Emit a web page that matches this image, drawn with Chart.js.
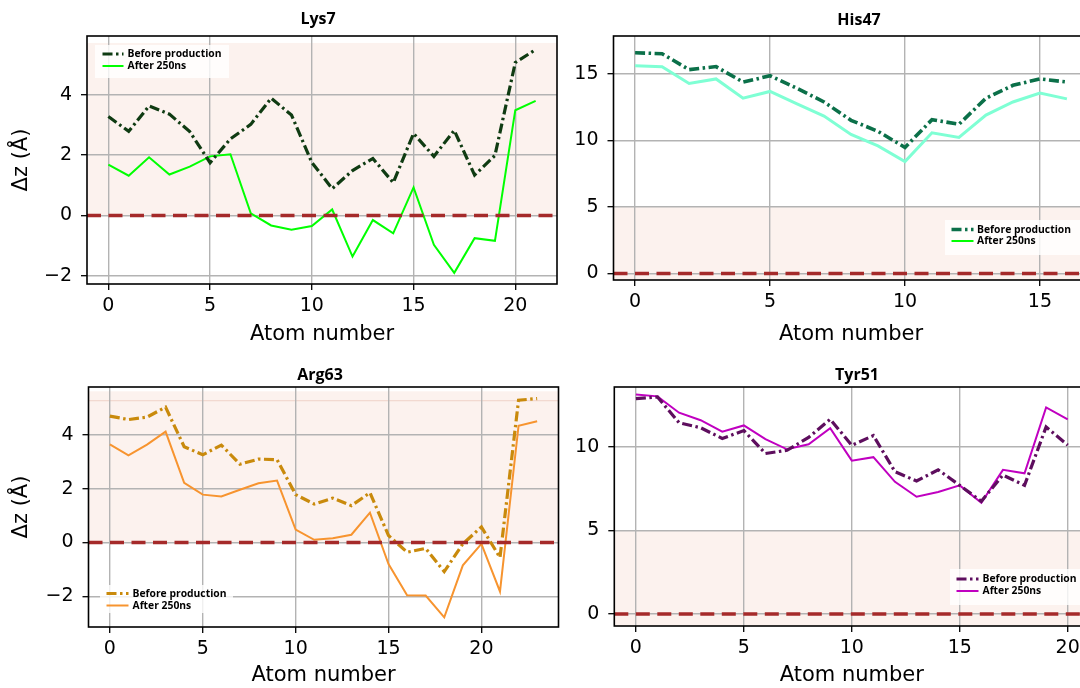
<!DOCTYPE html>
<html><head><meta charset="utf-8">
<script src="https://cdn.jsdelivr.net/npm/chart.js@4/dist/chart.umd.min.js"></script>
<style>
html,body{margin:0;padding:0;background:#fff;width:1080px;height:688px;overflow:hidden;position:relative}
canvas{position:absolute}
</style></head><body>
<canvas id="c1"></canvas><canvas id="c2"></canvas><canvas id="c3"></canvas><canvas id="c4"></canvas>
<script>
// ---- data ----
const xLabel = 'Atom number';
const yLabel = 'Δz (Å)';
const legendLabels = ['Before production', 'After 250ns'];
const titles = ['Lys7', 'His47', 'Arg63', 'Tyr51'];

const lys7Before = [3.28, 2.79, 3.63, 3.36, 2.78, 1.75, 2.54, 3.02, 3.89, 3.33, 1.76, 0.89, 1.49, 1.89, 1.09, 2.72, 1.96, 2.82, 1.34, 1.99, 5.07, 5.5];
const lys7After  = [1.69, 1.32, 1.93, 1.36, 1.62, 1.96, 2.03, 0.07, -0.33, -0.47, -0.35, 0.2, -1.36, -0.15, -0.59, 0.93, -0.97, -1.9, -0.75, -0.84, 3.49, 3.8];

const his47Before = [16.6, 16.53, 15.33, 15.56, 14.39, 14.87, 13.92, 12.9, 11.52, 10.69, 9.48, 11.57, 11.22, 13.18, 14.15, 14.63, 14.4];
const his47After  = [15.62, 15.55, 14.29, 14.63, 13.18, 13.69, 12.76, 11.84, 10.46, 9.59, 8.42, 10.58, 10.23, 11.91, 12.9, 13.57, 13.13];

const arg63Before = [4.7, 4.57, 4.66, 5.03, 3.56, 3.26, 3.62, 2.91, 3.1, 3.08, 1.78, 1.43, 1.65, 1.37, 1.85, 0.26, -0.36, -0.22, -1.08, -0.05, 0.58, -0.56, 5.29, 5.35];
const arg63After  = [3.65, 3.24, 3.64, 4.12, 2.22, 1.78, 1.71, 1.96, 2.2, 2.3, 0.48, 0.1, 0.16, 0.29, 1.11, -0.8, -1.96, -1.97, -2.78, -0.85, -0.05, -1.82, 4.34, 4.51];

const tyr51Before = [12.89, 12.99, 11.45, 11.15, 10.51, 10.98, 9.61, 9.8, 10.57, 11.66, 10.1, 10.68, 8.52, 7.96, 8.63, 7.7, 6.75, 8.32, 7.7, 11.2, 10.11];
const tyr51After  = [13.14, 13.03, 12.05, 11.6, 10.92, 11.29, 10.47, 9.86, 10.16, 11.13, 9.18, 9.39, 7.91, 7.02, 7.3, 7.7, 6.66, 8.63, 8.42, 12.37, 11.65];

const lys7XTicks = [0, 5, 10, 15, 20];
const lys7YTicks = [-2, 0, 2, 4];
const his47XTicks = [0, 5, 10, 15];
const his47YTicks = [0, 5, 10, 15];
const arg63XTicks = [0, 5, 10, 15, 20];
const arg63YTicks = [-2, 0, 2, 4];
const tyr51XTicks = [0, 5, 10, 15, 20];
const tyr51YTicks = [0, 5, 10];

// ---- drawing ----
function toPts(arr) { return arr.map((v, i) => ({x: i, y: v})); }
function fmt(v) { return v < 0 ? '\u2212' + Math.abs(v) : String(v); }

function panel(o) {
  const cv = document.getElementById(o.id);
  const [bx, by, bw, bh] = o.box;
  cv.width = bw; cv.height = bh;
  cv.style.left = bx + 'px'; cv.style.top = by + 'px';
  const [L, T, R, B] = o.area;
  const yW = L - bx, xH = by + bh - B, padTop = T - by, padRight = bx + bw - R;

  const deco = {
    id: 'deco',
    beforeDraw(chart) {
      const {ctx, chartArea: a, scales: {y}} = chart;
      ctx.save();
      ctx.fillStyle = '#fcf2ee';
      const s0 = Math.max(y.getPixelForValue(o.shade[1]), a.top);
      const s1 = Math.min(y.getPixelForValue(o.shade[0]), a.bottom);
      ctx.fillRect(a.left, s0, a.right - a.left, s1 - s0);
      if (o.faint !== undefined) {
        ctx.strokeStyle = 'rgba(232,196,184,0.7)';
        ctx.lineWidth = 1;
        const fy = y.getPixelForValue(o.faint);
        ctx.beginPath(); ctx.moveTo(a.left, fy); ctx.lineTo(a.right, fy); ctx.stroke();
      }
      ctx.restore();
    },
    afterDatasetsDraw(chart) {
      const {ctx, chartArea: a, scales: {y}} = chart;
      const zy = y.getPixelForValue(0);
      ctx.save();
      ctx.strokeStyle = '#a52a2a';
      ctx.lineWidth = 3.6;
      ctx.setLineDash([14, 7.5]);
      ctx.beginPath(); ctx.moveTo(a.left, zy); ctx.lineTo(a.right, zy); ctx.stroke();
      ctx.restore();
    },
    afterDraw(chart) {
      const {ctx, chartArea: a} = chart;
      ctx.save();
      // legend
      const lg = o.legend;
      ctx.fillStyle = 'rgba(255,255,255,0.8)';
      ctx.fillRect(lg.box[0] - bx, lg.box[1] - by, lg.box[2], lg.box[3]);
      let fs = 10;
      ctx.font = 'bold ' + fs + 'px "Open Sans"';
      fs = fs * 94 / ctx.measureText(legendLabels[0]).width;
      ctx.font = 'bold ' + fs.toFixed(2) + 'px "Open Sans"';
      ctx.textBaseline = 'middle'; ctx.textAlign = 'left';
      chart.data.datasets.forEach((ds, i) => {
        const ry = lg.rows[i] - by;
        ctx.strokeStyle = o.legendColors[i];
        ctx.lineWidth = i === 0 ? o.w1 : 2;
        ctx.setLineDash(i === 0 ? o.dash1 : []);
        ctx.beginPath(); ctx.moveTo(lg.sx[0] - bx, ry); ctx.lineTo(lg.sx[1] - bx, ry); ctx.stroke();
        ctx.fillStyle = '#000';
        ctx.fillText(ds.label, lg.tx - bx, ry + 0.5);
      });
      ctx.setLineDash([]);
      // spines
      ctx.strokeStyle = '#000'; ctx.lineWidth = 1.6;
      ctx.strokeRect(a.left, a.top, a.right - a.left, a.bottom - a.top);
      // title
      ctx.fillStyle = '#000';
      ctx.font = 'bold 16px "Open Sans"';
      ctx.textAlign = 'center'; ctx.textBaseline = 'middle';
      ctx.fillText(o.title, o.titlePos[0] - bx, o.titlePos[1] - by);
      ctx.restore();
    }
  };

  const gridOpts = {color: '#b3b3b3', lineWidth: 1.4, tickColor: '#000', tickLength: 6, tickWidth: 1.3};
  const tickFont = {family: 'DejaVu Sans', size: 19};
  new Chart(cv, {
    type: 'line',
    data: {datasets: [
      {label: legendLabels[0], data: toPts(o.before), borderColor: o.c1, borderWidth: o.w1, borderDash: o.dash1, fill: false},
      {label: legendLabels[1], data: toPts(o.after), borderColor: o.c2, borderWidth: o.w2, fill: false}
    ]},
    options: {
      responsive: false, animation: false, devicePixelRatio: 1,
      layout: {padding: {top: padTop, right: padRight, left: 0, bottom: 0}},
      elements: {point: {radius: 0, hoverRadius: 0}, line: {tension: 0, borderCapStyle: 'butt', borderJoinStyle: 'miter'}},
      plugins: {legend: {display: false}, tooltip: {enabled: false}, title: {display: false}},
      scales: {
        x: {
          type: 'linear', min: o.xr[0], max: o.xr[1],
          afterBuildTicks: s => { s.ticks = o.xt.map(v => ({value: v})); },
          afterFit: s => { s.height = xH; },
          grid: gridOpts, border: {display: false},
          ticks: {font: tickFont, color: '#000', padding: 5, maxRotation: 0, autoSkip: false, callback: fmt},
          title: {display: true, text: xLabel, font: {family: 'DejaVu Sans', size: 21}, color: '#000', padding: 0}
        },
        y: {
          type: 'linear', min: o.yr[0], max: o.yr[1],
          afterBuildTicks: s => { s.ticks = o.yt.map(v => ({value: v})); },
          afterFit: s => { s.width = yW; },
          grid: gridOpts, border: {display: false},
          ticks: {font: tickFont, color: '#000', padding: 9, autoSkip: false, callback: fmt},
          title: {display: !!o.ylabel, text: yLabel, font: {family: 'DejaVu Sans', size: 21}, color: '#000', padding: {top: 9, bottom: 0}}
        }
      }
    },
    plugins: [deco]
  });
}

const dashDot = [10, 3.5, 2.5, 3.5];

panel({id: 'c1', box: [0, 0, 560, 347], area: [87, 36, 557, 284],
  xr: [-1.05, 22.05], yr: [-2.27, 5.95], xt: lys7XTicks, yt: lys7YTicks,
  before: lys7Before, after: lys7After, c1: '#0f3b12', c2: '#00ff00', w1: 3.2, w2: 2, dash1: dashDot,
  legendColors: ['#0f3b12', '#00ff00'], shade: [0, 5.72], ylabel: true, title: titles[0], titlePos: [318, 19],
  legend: {box: [95, 45, 134, 33], rows: [54, 66], sx: [102.5, 123.5], tx: 127.5}});

panel({id: 'c2', box: [560, 0, 540, 347], area: [613.5, 36, 1088.5, 280],
  xr: [-0.8, 16.8], yr: [-0.49, 17.86], xt: his47XTicks, yt: his47YTicks,
  before: his47Before, after: his47After, c1: '#0b7049', c2: '#7fffd4', w1: 3.6, w2: 3, dash1: dashDot,
  legendColors: ['#0b7049', '#00ff00'], shade: [-0.49, 5], ylabel: false, title: titles[1], titlePos: [859, 20],
  legend: {box: [945, 220, 140, 35], rows: [229.5, 241], sx: [951.5, 973.5], tx: 977}});

panel({id: 'c3', box: [0, 344, 560, 344], area: [88.5, 387, 558.5, 627],
  xr: [-1.15, 24.15], yr: [-3.14, 5.78], xt: arg63XTicks, yt: arg63YTicks,
  before: arg63Before, after: arg63After, c1: '#c98a0c', c2: '#f7942f', w1: 3.2, w2: 2, dash1: dashDot,
  legendColors: ['#c98a0c', '#f7942f'], shade: [0, 5.62], faint: 5.27, ylabel: true, title: titles[2], titlePos: [320, 375],
  legend: {box: [100, 585, 133, 28], rows: [593.5, 605.5], sx: [106.5, 128.5], tx: 132.5}});

panel({id: 'c4', box: [560, 344, 540, 344], area: [614.3, 387, 1089.3, 626],
  xr: [-1, 21], yr: [-0.72, 13.59], xt: tyr51XTicks, yt: tyr51YTicks,
  before: tyr51Before, after: tyr51After, c1: '#5e0e5e', c2: '#c000c0', w1: 3.2, w2: 2, dash1: dashDot,
  legendColors: ['#5e0e5e', '#c000c0'], shade: [-0.72, 5], ylabel: false, title: titles[3], titlePos: [857, 375],
  legend: {box: [950, 569, 135, 36], rows: [579, 591], sx: [956.5, 978.5], tx: 982.5}});
</script>
</body></html>
